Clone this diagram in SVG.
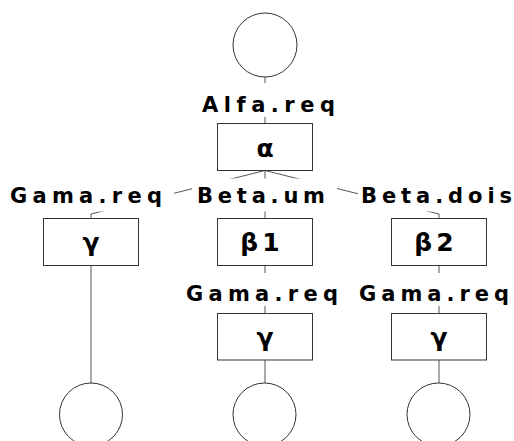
<svg xmlns="http://www.w3.org/2000/svg" width="514" height="441" viewBox="0 0 514 441">
  <style>
    .node { fill: #ffffff; stroke: #333333; stroke-width: 1; }
    .edge { fill: none; stroke: #555555; stroke-width: 1; }
    .lblbg { fill: #ffffff; stroke: none; }
    .lbl { font-family: "DejaVu Sans", "Liberation Sans", sans-serif; font-weight: bold; font-size: 21px; fill: #000000; }
    .sym { font-family: "DejaVu Sans", "Liberation Sans", sans-serif; font-weight: bold; font-size: 25px; fill: #000000; text-anchor: middle; letter-spacing: 4px; }
  </style>
  <rect width="514" height="441" fill="#ffffff"/>

  <!-- connectors -->
  <g id="connectors">
    <path class="edge" d="M265,77 V123.5"/>
    <path class="edge" d="M265,170.5 L91,214 V218.5"/>
    <path class="edge" d="M265,170.5 V218.5"/>
    <path class="edge" d="M265,170.5 L439,214 V218.5"/>
    <path class="edge" d="M91,265.5 V383"/>
    <path class="edge" d="M265,265.5 V313.5"/>
    <path class="edge" d="M439,265.5 V313.5"/>
    <path class="edge" d="M265,360 V383"/>
    <path class="edge" d="M439,360 V383"/>
  </g>

  <!-- edge labels, each on a white plate that masks the line behind it -->
  <g id="labels">
    <rect class="lblbg" x="195" y="83" width="145" height="34"/>
    <text class="lbl" x="202" y="112" textLength="133" lengthAdjust="spacing">Alfa.req</text>

    <rect class="lblbg" x="0" y="178.5" width="174" height="33"/>
    <text class="lbl" x="10" y="203" textLength="152" lengthAdjust="spacing">Gama.req</text>

    <rect class="lblbg" x="192" y="178.5" width="145" height="33"/>
    <text class="lbl" x="197" y="203" textLength="128" lengthAdjust="spacing">Beta.um</text>

    <rect class="lblbg" x="358" y="178.5" width="160" height="33"/>
    <text class="lbl" x="361" y="203" textLength="151" lengthAdjust="spacing">Beta.dois</text>

    <rect class="lblbg" x="180" y="273" width="165" height="33"/>
    <text class="lbl" x="186" y="301" textLength="152" lengthAdjust="spacing">Gama.req</text>

    <rect class="lblbg" x="355" y="273" width="159" height="33"/>
    <text class="lbl" x="359" y="301" textLength="150" lengthAdjust="spacing">Gama.req</text>
  </g>

  <!-- start state -->
  <g id="start">
    <circle class="node" cx="265" cy="45" r="32"/>
  </g>

  <g id="alpha">
    <rect class="node" x="217.5" y="123.5" width="95" height="47"/>
    <text class="sym" x="267" y="157">α</text>
  </g>

  <g id="gamma-left">
    <rect class="node" x="43.5" y="218.5" width="95" height="47"/>
    <text class="sym" x="93" y="251">γ</text>
  </g>

  <g id="beta1">
    <rect class="node" x="217.5" y="218.5" width="95" height="47"/>
    <text class="sym" x="262" y="251">β1</text>
  </g>

  <g id="beta2">
    <rect class="node" x="391.5" y="218.5" width="95" height="47"/>
    <text class="sym" x="436" y="251">β2</text>
  </g>

  <g id="gamma-mid">
    <rect class="node" x="217.5" y="313.5" width="95" height="46.5"/>
    <text class="sym" x="267" y="346">γ</text>
  </g>

  <g id="gamma-right">
    <rect class="node" x="391.5" y="313.5" width="95" height="46.5"/>
    <text class="sym" x="441" y="346">γ</text>
  </g>

  <!-- end states -->
  <g id="end-left">
    <circle class="node" cx="91" cy="414.5" r="31.5"/>
  </g>
  <g id="end-mid">
    <circle class="node" cx="264.5" cy="414.5" r="31.5"/>
  </g>
  <g id="end-right">
    <circle class="node" cx="438.5" cy="414.5" r="31.5"/>
  </g>
</svg>
